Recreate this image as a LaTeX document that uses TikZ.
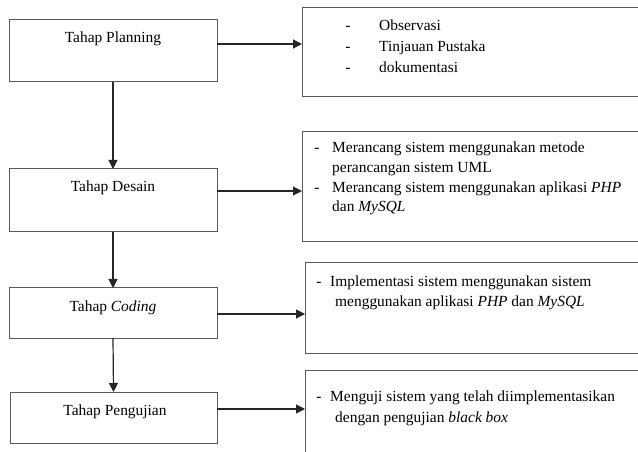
\documentclass[tikz,border=0pt]{standalone}
\usepackage{fontspec}
\setmainfont{Liberation Serif}
\usetikzlibrary{arrows.meta}
\begin{document}
\begin{tikzpicture}[x=1bp,y=-1bp,
  boxline/.style={draw=black!65, line width=1bp},
  stagebox/.style={boxline, rectangle, inner sep=0pt, outer sep=0pt, anchor=north west},
  arr/.style={draw=black!85, line width=1.2bp, -{Triangle[length=9bp,width=9bp]}},
  txt/.style={anchor=base, inner sep=0pt, font=\fontsize{15.5}{20}\selectfont},
  ltxt/.style={anchor=base west, inner sep=0pt, font=\fontsize{15.5}{20}\selectfont},
]
\clip (0,0) rectangle (638,452);
\fill[white] (0,0) rectangle (638,452);

% left stage boxes
\node[stagebox, minimum width=208bp, minimum height=62bp] (b1) at (9,20) {};
\node[stagebox, minimum width=208bp, minimum height=63bp] (b2) at (9,169) {};
\node[stagebox, minimum width=208bp, minimum height=50bp] (b3) at (9,288) {};
\node[stagebox, minimum width=207bp, minimum height=51bp] (b4) at (10,392) {};

% right description boxes (open on the right)
\node[stagebox, minimum width=345bp, minimum height=89bp] (r1) at (302,8) {};
\node[stagebox, minimum width=345bp, minimum height=109bp] (r2) at (302,132) {};
\node[stagebox, minimum width=342bp, minimum height=90bp] (r3) at (305,263) {};
\node[stagebox, minimum width=342bp, minimum height=100bp] (r4) at (305,370) {};

% stage titles
\node[txt] (t1) at (113,43) {Tahap Planning};
\node[txt] (t2) at (113,192) {Tahap Desain};
\node[txt] (t3) at (113,312) {Tahap \textit{Coding}};
\node[txt] (t4) at (115,415) {Tahap Pengujian};

% row heights of the horizontal arrows
\coordinate (h1) at (0,44);
\coordinate (h2) at (0,191);
\coordinate (h3) at (0,314);
\coordinate (h4) at (0,409);

% horizontal arrows
\draw[arr] (b1.east |- h1) -- (r1.west |- h1);
\draw[arr] (b2.east |- h2) -- (r2.west |- h2);
\draw[arr] (b3.east |- h3) -- (r3.west |- h3);
\draw[arr] (b4.east |- h4) -- (r4.west |- h4);

% vertical arrows
\draw[arr] (b1.south) -- (b2.north);
\draw[arr] (b2.south) -- (b3.north);
\draw[arr] (b3.south) -- (b4.north);

% box 1 contents
\node[txt] (d1a) at (348,31) {-};
\node[txt] (d1b) at (348,52) {-};
\node[txt] (d1c) at (348,73) {-};
\node[ltxt] (l1a) at (379,31) {Observasi};
\node[ltxt] (l1b) at (379,52) {Tinjauan Pustaka};
\node[ltxt] (l1c) at (379,73) {dokumentasi};

% box 2 contents
\node[txt] (d2a) at (317,153) {-};
\node[txt] (d2b) at (317,193) {-};
\node[ltxt] (l2a) at (332,153) {Merancang sistem menggunakan metode};
\node[ltxt] (l2b) at (332,173) {perancangan sistem UML};
\node[ltxt] (l2c) at (332,193) {Merancang sistem menggunakan aplikasi \textit{PHP}};
\node[ltxt] (l2d) at (332,212) {dan \textit{MySQL}};

% box 3 contents
\node[txt] (d3a) at (319,287) {-};
\node[ltxt] (l3a) at (330,287) {Implementasi sistem menggunakan sistem};
\node[ltxt] (l3b) at (335,307) {menggunakan aplikasi \textit{PHP} dan \textit{MySQL}};

% box 4 contents
\node[txt] (d4a) at (319,401) {-};
\node[ltxt] (l4a) at (330,401) {Menguji sistem yang telah diimplementasikan};
\node[ltxt] (l4b) at (335,422) {dengan pengujian \textit{black box}};
\end{tikzpicture}
\end{document}
